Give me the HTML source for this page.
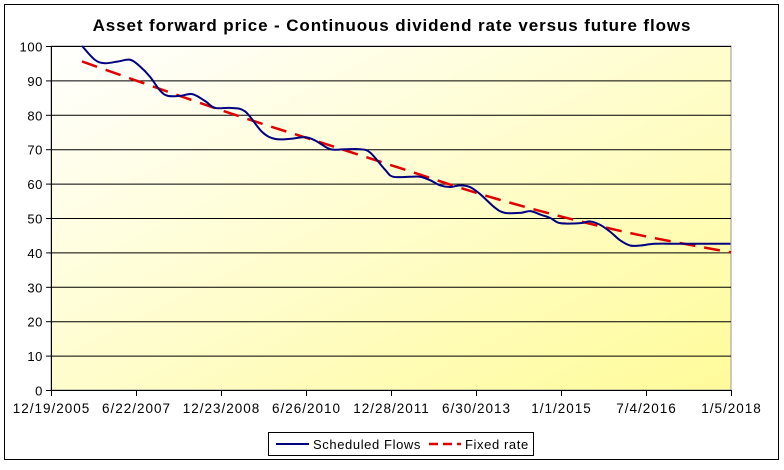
<!DOCTYPE html>
<html><head><meta charset="utf-8"><style>
body{margin:0;background:#fff;width:784px;height:465px;overflow:hidden;font-family:"Liberation Sans",Arial,sans-serif}
</style></head><body>
<svg id="chart" width="784" height="465" xmlns="http://www.w3.org/2000/svg">
<defs>
<linearGradient id="bg" x1="0" y1="0" x2="1" y2="1">
<stop offset="0" stop-color="#ffffff"/><stop offset="1" stop-color="#fffb9a"/>
</linearGradient>
</defs>
<rect x="4.5" y="4.5" width="774" height="455" fill="#fff" stroke="#000"/>
<text x="392" y="31" text-anchor="middle" font-size="17" font-weight="bold" letter-spacing="0.9">Asset forward price - Continuous dividend rate versus future flows</text>
<rect x="51" y="46" width="680" height="344" fill="url(#bg)" stroke="#999"/>
<g id="grid"></g><g id="yt"></g><g id="xt"></g><g id="series"></g>
<g>
<rect x="268.5" y="432.5" width="265" height="23" fill="#fff" stroke="#000"/>
<line x1="276" y1="444" x2="309" y2="444" stroke="#000080" stroke-width="2"/>
<text x="313" y="449" font-size="13" letter-spacing="0.6">Scheduled Flows</text>
<line x1="429" y1="444" x2="461" y2="444" stroke="#e00000" stroke-width="2.5" stroke-dasharray="9,5"/>
<text x="465" y="449" font-size="13" letter-spacing="0.6">Fixed rate</text>
</g>
</svg>
<script>
const xTickLabels=["12/19/2005","6/22/2007","12/23/2008","6/26/2010","12/28/2011","6/30/2013","1/1/2015","7/4/2016","1/5/2018"];
const yTicks=[0,10,20,30,40,50,60,70,80,90,100];
const flowYears=[2006.53,2006.76,2006.94,2007.18,2007.40,2007.58,2007.76,2007.94,2008.08,2008.30,2008.52,2008.75,2008.93,2009.20,2009.47,2009.78,2010.01,2010.28,2010.55,2010.74,2011.01,2011.28,2011.55,2011.73,2012.00,2012.14,2012.45,2012.63,2012.81,2012.99,2013.17,2013.35,2013.53,2013.71,2013.98,2014.16,2014.44,2014.62,2014.80,2014.98,2015.16,2015.52,2015.70,2015.88,2016.06,2016.24,2016.42,2016.60,2016.87,2017.32,2018.05,2018.23];
const flowValues=[100,96,95,95.5,96,94,91,87,85.5,85.5,86,84,82,82,81,75,73,73,73.5,72.5,70,70,70,69,64,62,62,62,61,59.5,59,59.5,59,57,53,51.5,51.5,52,51,50,48.5,48.5,49,48,46,43.5,42,42,42.5,42.5,42.5,42.5];
const fixedYears=[2006.53,2007.94,2009.38,2010.83,2012.27,2013.71,2015.16,2016.60,2018.24];
const fixedValues=[95.5,87.5,79.5,72,64.5,57,50.5,45,40];
const X0=51,X1=731,Y0=390,Y1=46,xMin=2005.97,xMax=2018.24;
const xs=v=>X0+(v-xMin)/(xMax-xMin)*(X1-X0);
const ys=v=>Y0-(v/100)*(Y0-Y1);
const NS="http://www.w3.org/2000/svg";
function mk(t,a,p){const e=document.createElementNS(NS,t);for(const k in a)e.setAttribute(k,a[k]);p.appendChild(e);return e;}
const grid=document.getElementById('grid'),yt=document.getElementById('yt'),xt=document.getElementById('xt'),ser=document.getElementById('series');
yTicks.forEach(v=>{
 const y=ys(v)+0.5;
 if(v>0){const g=mk('line',{x1:X0,x2:X1,y1:y,y2:y,stroke:'#000'},grid);
 
 }
 mk('line',{x1:X0-5,x2:X0,y1:y,y2:y,stroke:'#000'},yt);
 const t=mk('text',{x:X0-8,y:y+5,'text-anchor':'end','font-size':'13','letter-spacing':'0.6'},yt);t.textContent=v;
 
 
});
mk('line',{x1:X0+0.5,x2:X0+0.5,y1:Y1,y2:Y0,stroke:'#000'},yt);
mk('line',{x1:X0,x2:X1,y1:Y0+0.5,y2:Y0+0.5,stroke:'#000'},xt);
xTickLabels.forEach((l,i)=>{
 const x=X0+i*(X1-X0)/(xTickLabels.length-1)+0.5;
 mk('line',{x1:x,x2:x,y1:Y0,y2:Y0+6,stroke:'#000'},xt);
 const t=mk('text',{x:x,y:Y0+23,'text-anchor':'middle','font-size':'13.5','letter-spacing':'1'},xt);t.textContent=l;
 
 
});
function smooth(xa,ya){
 const p=xa.map((x,i)=>[xs(x),ys(ya[i])]);let d='M'+p[0][0]+','+p[0][1];
 for(let i=0;i<p.length-1;i++){const a=p[Math.max(0,i-1)],b=p[i],c=p[i+1],e=p[Math.min(p.length-1,i+2)];
  d+=' C'+(b[0]+(c[0]-a[0])/6)+','+(b[1]+(c[1]-a[1])/6)+' '+(c[0]-(e[0]-b[0])/6)+','+(c[1]-(e[1]-b[1])/6)+' '+c[0]+','+c[1];}
 return d;}
const fx=mk('path',{d:smooth(fixedYears,fixedValues),fill:'none',stroke:'#e00000','stroke-width':2.5,'stroke-dasharray':'16,9'},ser);


const fl=mk('path',{d:smooth(flowYears,flowValues),fill:'none',stroke:'#000080','stroke-width':2},ser);


</script>
</body></html>
